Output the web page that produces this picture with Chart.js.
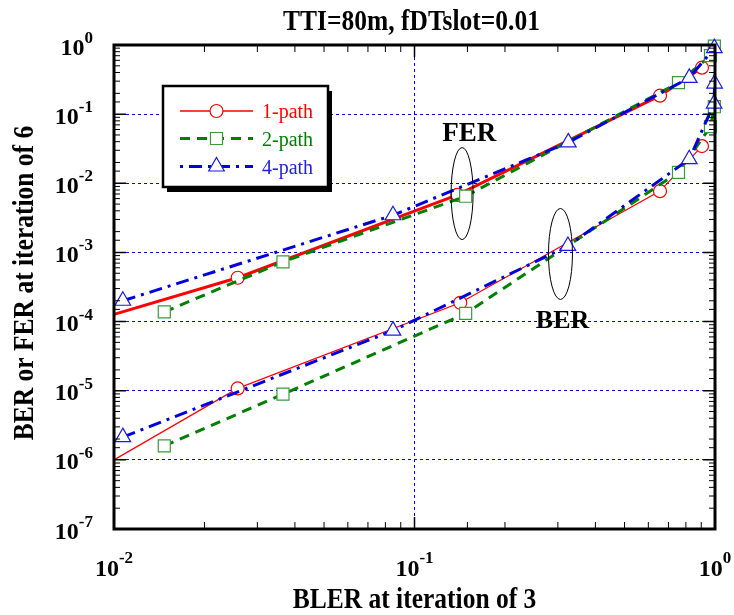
<!DOCTYPE html>
<html lang="en">
<head>
  <meta charset="UTF-8" />
  <title>TTI=80m, fDTslot=0.01</title>
  <script src="https://cdn.jsdelivr.net/npm/chart.js"></script>
  <style>
    html, body { margin: 0; padding: 0; background: #fff; }
  </style>
</head>
<body>
  <canvas id="berChart" width="734" height="615"></canvas>

  <script>
    // values: BLER at iteration 3 (x), FER / BER at iteration 6 (y)
    const legendLabels = ['1-path', '2-path', '4-path'];

    const bler1pathFer = [0.01, 0.0258, 0.139, 0.656, 0.905];
    const fer1path     = [1.27e-4, 4.3e-4, 6.8e-3, 0.185, 0.47];
    const bler1pathBer = [0.01, 0.0258, 0.142, 0.656, 0.905];
    const ber1path     = [1.0e-6, 1.08e-5, 1.87e-4, 7.7e-3, 0.0345];

    const bler2path = [0.0147, 0.0365, 0.148, 0.756, 0.966, 0.995];
    const fer2path  = [1.38e-4, 7.3e-4, 6.5e-3, 0.285, 0.70, 0.96];
    const ber2path  = [1.59e-6, 8.9e-6, 1.31e-4, 0.0144, 0.0658, 0.128];

    const bler4pathFer = [0.0107, 0.0848, 0.325, 0.821, 0.995];
    const fer4path     = [2.0e-4, 3.45e-3, 0.039, 0.335, 0.9];
    const bler4pathBer = [0.0107, 0.0848, 0.324, 0.821, 0.993, 0.997];
    const ber4path     = [2.13e-6, 7.4e-5, 1.24e-3, 0.0223, 0.142, 0.277];

    const xTickExps = [-2, -1, 0];
    const yTickExps = [-7, -6, -5, -4, -3, -2, -1, 0];

    // group annotations (data coordinates)
    const groupNames = ['FER', 'BER'];
    const groupTextX = [0.152, 0.311];
    const groupTextY = [0.0408, 8.0e-5];
    const ellipseX = [0.144, 0.306];
    const ellipseY = [7.1e-3, 9.5e-4];

    const RED = '#ff0000', GREEN = '#008000', BLUE = '#0000dd';
    const SERIF = '"Liberation Serif", "Times New Roman", serif';

    function pts(xs, ys) {
      return xs.map((v, i) => ({ x: v, y: ys[i] }));
    }

    function isDecade(v) {
      const l = Math.log10(v);
      return Math.abs(l - Math.round(l)) < 1e-6;
    }

    const red = {
      borderColor: RED, pointBorderColor: RED, pointBackgroundColor: '#fff',
      pointStyle: 'circle', pointBorderWidth: 1.2, order: 3
    };
    const green = {
      borderColor: GREEN, pointBorderColor: '#3a9a3a', pointBackgroundColor: '#fff',
      pointStyle: 'rect', pointRadius: 8.5, pointBorderWidth: 1.2,
      borderWidth: 3, borderDash: [10, 7], order: 2
    };
    const blue = {
      borderColor: BLUE, pointBorderColor: '#1a1aee', pointBackgroundColor: '#fff',
      pointStyle: 'triangle', pointRadius: 9, pointBorderWidth: 1.2,
      borderWidth: 3, borderDash: [13, 6, 3, 6], order: 1
    };

    const datasets = [
      { ...red, label: '1-path FER', data: pts(bler1pathFer, fer1path), borderWidth: 3,
        pointRadius: bler1pathFer.map(v => v <= 0.01 ? 0 : 6.5) },
      { ...red, label: '1-path BER', data: pts(bler1pathBer, ber1path), borderWidth: 1.2,
        pointRadius: bler1pathBer.map(v => v <= 0.01 ? 0 : 6.5) },
      { ...green, label: '2-path FER', data: pts(bler2path, fer2path) },
      { ...green, label: '2-path BER', data: pts(bler2path, ber2path) },
      { ...blue, label: '4-path FER', data: pts(bler4pathFer, fer4path) },
      { ...blue, label: '4-path BER', data: pts(bler4pathBer, ber4path) }
    ];
    datasets.forEach(d => { d.clip = false; d.tension = 0; d.fill = false; });

    function drawPower(ctx, exp, x, baseY, align, supRise) {
      ctx.font = 'bold 24px ' + SERIF;
      const wb = ctx.measureText('10').width;
      ctx.font = 'bold 17px ' + SERIF;
      const we = ctx.measureText(exp).width;
      const left = align === 'right' ? x - wb - we : x - (wb + we) / 2;
      ctx.textAlign = 'left';
      ctx.font = 'bold 24px ' + SERIF;
      ctx.fillText('10', left, baseY);
      ctx.font = 'bold 17px ' + SERIF;
      ctx.fillText(exp, left + wb, baseY - supRise);
    }

    function condensedText(ctx, text, cx, cy, rot) {
      ctx.save();
      ctx.translate(cx, cy);
      if (rot) ctx.rotate(rot);
      ctx.scale(0.85, 1);
      ctx.textAlign = 'center';
      ctx.fillText(text, 0, 0);
      ctx.restore();
    }

    const decorPlugin = {
      id: 'decor',
      afterDatasetsDraw(chart) {
        const { ctx, scales: { x, y } } = chart;
        ctx.save();
        // ellipses around the FER / BER groups
        ctx.strokeStyle = '#000';
        ctx.lineWidth = 1;
        const rx = [11, 12], ry = [46, 45.5];
        ellipseX.forEach((v, i) => {
          ctx.beginPath();
          ctx.ellipse(x.getPixelForValue(v), y.getPixelForValue(ellipseY[i]), rx[i], ry[i], 0, 0, Math.PI * 2);
          ctx.stroke();
        });
        ctx.fillStyle = '#000';
        ctx.textAlign = 'center';
        ctx.textBaseline = 'alphabetic';
        groupNames.forEach((t, i) => {
          ctx.font = 'bold ' + (i === 0 ? 27 : 26) + 'px ' + SERIF;
          ctx.fillText(t, x.getPixelForValue(groupTextX[i]), y.getPixelForValue(groupTextY[i]));
        });
        ctx.restore();
      },
      afterDraw(chart) {
        const { ctx, chartArea: a, scales: { x, y } } = chart;
        ctx.save();

        // inward tick marks on all four sides
        ctx.strokeStyle = '#000';
        x.ticks.forEach(t => {
          if (t.value <= x.min * 1.0001 || t.value >= x.max * 0.9999) return;
          const px = x.getPixelForValue(t.value);
          const len = isDecade(t.value) ? 12 : 7;
          ctx.lineWidth = isDecade(t.value) ? 1.5 : 1;
          ctx.beginPath();
          ctx.moveTo(px, a.bottom); ctx.lineTo(px, a.bottom - len);
          ctx.moveTo(px, a.top); ctx.lineTo(px, a.top + len);
          ctx.stroke();
        });
        y.ticks.forEach(t => {
          if (t.value <= y.min * 1.0001 || t.value >= y.max * 0.9999) return;
          const py = y.getPixelForValue(t.value);
          const len = isDecade(t.value) ? 12 : 6;
          ctx.lineWidth = isDecade(t.value) ? 1.5 : 1;
          ctx.beginPath();
          ctx.moveTo(a.left, py); ctx.lineTo(a.left + len, py);
          ctx.moveTo(a.right, py); ctx.lineTo(a.right - len, py);
          ctx.stroke();
        });

        // frame
        ctx.lineWidth = 3;
        ctx.strokeRect(a.left, a.top, a.right - a.left, a.bottom - a.top);

        // tick labels
        ctx.fillStyle = '#000';
        ctx.textBaseline = 'alphabetic';
        xTickExps.forEach(e => {
          drawPower(ctx, String(e), x.getPixelForValue(Math.pow(10, e)), a.bottom + 47, 'center', 13);
        });
        yTickExps.forEach(e => {
          drawPower(ctx, String(e), a.left - 21, y.getPixelForValue(Math.pow(10, e)) + 9.5, 'right', 11.5);
        });

        // titles
        ctx.font = 'bold 30px ' + SERIF;
        condensedText(ctx, 'TTI=80m, fDTslot=0.01', 411.5, 30);
        condensedText(ctx, 'BLER at iteration of 3', (a.left + a.right) / 2, 608);
        condensedText(ctx, 'BER or FER at iteration of 6', 33, 283, -Math.PI / 2);

        // legend box with drop shadow
        const bx = 163, by = 86, bw = 165, bh = 101;
        ctx.fillStyle = '#000';
        ctx.fillRect(bx + 4, by + 5, bw, bh);
        ctx.fillStyle = '#fff';
        ctx.fillRect(bx, by, bw, bh);
        ctx.lineWidth = 2.5;
        ctx.strokeStyle = '#000';
        ctx.strokeRect(bx, by, bw, bh);

        const rows = [111, 138.5, 166.5];
        const textColors = [RED, GREEN, '#2222dd'];
        legendLabels.forEach((lab, i) => {
          const ds = chart.data.datasets.find(d => d.label === lab + ' BER');
          const ry = rows[i];
          ctx.save();
          ctx.strokeStyle = ds.borderColor;
          ctx.lineWidth = i === 0 ? 1.5 : ds.borderWidth;
          ctx.setLineDash(ds.borderDash || []);
          ctx.lineDashOffset = i === 2 ? 19 : 0;
          ctx.beginPath();
          ctx.moveTo(180, ry); ctx.lineTo(253, ry);
          ctx.stroke();
          ctx.restore();

          ctx.save();
          ctx.fillStyle = ds.pointBackgroundColor;
          ctx.strokeStyle = ds.pointBorderColor;
          ctx.lineWidth = ds.pointBorderWidth;
          const r = Array.isArray(ds.pointRadius) ? ds.pointRadius[ds.pointRadius.length - 1] : ds.pointRadius;
          Chart.helpers.drawPoint(ctx, { pointStyle: ds.pointStyle, radius: r, rotation: 0, borderWidth: ds.pointBorderWidth }, 216.5, ry);
          ctx.restore();

          ctx.fillStyle = textColors[i];
          ctx.font = '20px ' + SERIF;
          ctx.textAlign = 'left';
          ctx.fillText(lab, 262, ry + 7);
        });

        ctx.restore();
      }
    };

    new Chart(document.getElementById('berChart').getContext('2d'), {
      type: 'line',
      data: { datasets },
      options: {
        responsive: false,
        animation: false,
        layout: { padding: { left: 114, right: 19, top: 45, bottom: 86 } },
        plugins: { legend: { display: false }, title: { display: false }, tooltip: { enabled: false } },
        scales: {
          x: {
            type: 'logarithmic', min: 0.01, max: 1,
            ticks: { display: false },
            grid: {
              drawTicks: false,
              color: c => (c.tick && isDecade(c.tick.value)) ? '#0000ff' : 'rgba(0,0,0,0)',
              lineWidth: 1
            },
            border: { display: false, dash: [3, 3] }
          },
          y: {
            type: 'logarithmic', min: 1e-7, max: 1,
            ticks: { display: false },
            grid: {
              drawTicks: false,
              color: c => (c.tick && isDecade(c.tick.value)) ? '#0000ff' : 'rgba(0,0,0,0)',
              lineWidth: 1
            },
            border: { display: false, dash: [3, 3] }
          }
        }
      },
      plugins: [decorPlugin]
    });
  </script>
</body>
</html>
